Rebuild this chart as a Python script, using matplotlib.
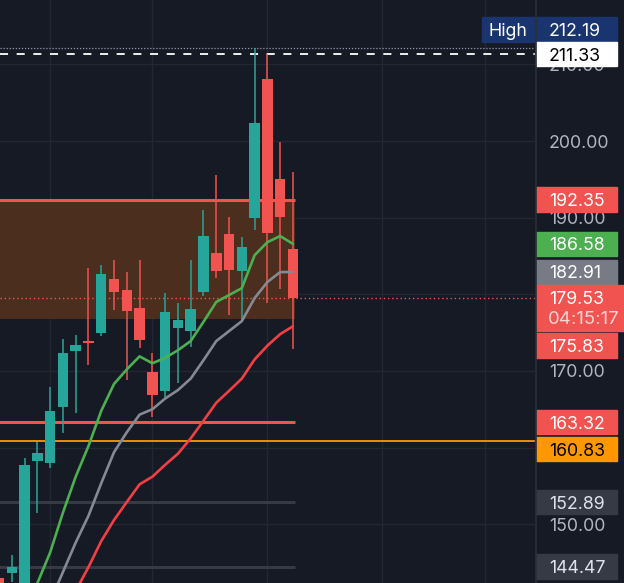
import matplotlib
matplotlib.use("Agg")
import matplotlib.pyplot as plt
from matplotlib.patches import Rectangle

plt.rcParams['font.family'] = ['Inter', 'DejaVu Sans']
plt.rcParams['lines.scale_dashes'] = False

# ---------------- data ----------------
opens  = [143.0, 143.6, 141.5, 158.25, 158.0, 165.3, 172.6, 173.9, 174.95, 182.0, 180.56, 178.21,
          169.86, 167.38, 175.6, 175.2, 180.3, 185.39, 187.87, 183.04, 189.95, 208.09, 195.04, 185.91]
closes = [139.5, 144.4, 157.7, 159.3, 164.8, 172.3, 173.4, 173.65, 182.65, 180.3, 177.82, 174.04,
          166.86, 177.69, 176.65, 178.1, 187.6, 183.04, 183.17, 186.17, 202.35, 188.0, 190.08, 179.53]
highs  = [143.6, 146.0, 158.6, 160.7, 167.9, 174.2, 174.7, 183.4, 183.8, 184.5, 182.9, 184.5,
          172.3, 180.2, 178.9, 184.5, 191.0, 195.6, 190.1, 187.5, 212.19, 211.33, 199.9, 196.0]
lows   = [138.0, 142.5, 140.5, 151.5, 157.3, 161.9, 164.5, 170.8, 174.6, 178.0, 168.8, 173.0,
          164.0, 166.6, 168.4, 173.1, 179.8, 182.1, 177.3, 176.6, 188.4, 178.9, 180.7, 172.9]

ma_green = [131.0, 134.5, 138.5, 142.3, 146.3, 151.5, 156.2, 160.2, 164.8, 168.3, 170.2, 171.9,
            171.0, 171.7, 172.7, 173.9, 176.4, 179.0, 179.9, 180.8, 185.1, 186.8, 187.6, 186.58]
ma_gray  = [124.6, 128.5, 132.1, 136.0, 139.9, 143.75, 147.6, 151.1, 155.35, 159.4, 162.0, 164.3,
            165.0, 166.4, 167.5, 169.0, 171.4, 173.9, 175.2, 176.5, 179.5, 181.6, 182.9, 182.91]
ma_red   = [121.5, 124.7, 128.1, 131.4, 134.6, 137.95, 141.3, 144.4, 147.8, 150.55, 152.9, 155.2,
            156.2, 157.75, 159.2, 161.2, 163.5, 165.85, 167.4, 169.0, 171.5, 173.3, 174.8, 175.83]

zone_top, zone_bottom = 192.35, 176.8
support_level = 163.32
orange_level = 160.83
gray_levels = [152.89, 144.47]
high_level = 212.19
dashed_level = 211.33
last_price = 179.53
countdown = "04:15:17"

price_ticks = [150, 160, 170, 180, 190, 200, 210]
shown_tick_labels = [150, 170, 190, 200, 210]   # 160 and 180 are hidden behind price boxes
time_grid = [4, 12, 21, 30, 38]

label_values = [212.19, 211.33, 192.35, 186.58, 182.91, 179.53, 175.83, 163.32, 160.83, 152.89, 144.47]
label_texts = ["212.19", "211.33", "192.35", "186.58", "182.91", "179.53", "175.83", "163.32", "160.83", "152.89", "144.47"]

# ---------------- style ----------------
BG = "#161a25"
GRID = "#232733"
UP = "#26a69a"
DOWN = "#f05350"
label_bg = ["#19346e", "#ffffff", DOWN, "#4caf50", "#787b86", DOWN, DOWN, DOWN, "#ff9800", "#363a45", "#363a45"]
label_fg = ["#ffffff", "#000000", "#ffffff", "#ffffff", "#ffffff", "#ffffff", "#ffffff", "#ffffff", "#000000", "#e0e3eb", "#e0e3eb"]
label_shift_px = [-18, 0, 0, 0, 0, 0, 19, 0, 8, 0, 0]

W, H = 624, 583
YLIM = (142.33, 218.40)
PPU = H / (YLIM[1] - YLIM[0])

fig = plt.figure(figsize=(W / 100, H / 100), dpi=100)
fig.patch.set_facecolor(BG)
ax = fig.add_axes([0, 0, 535 / W, 1])
ax.set_facecolor(BG)
ax.set_xlim(0.078, 41.94)
ax.set_ylim(*YLIM)
for s in ax.spines.values():
    s.set_visible(False)
ax.set_xticks(time_grid)
ax.set_yticks(price_ticks)
ax.tick_params(length=0, labelleft=False, labelbottom=False)
ax.grid(color=GRID, lw=1.0)
ax.set_axisbelow(True)

zone_end = 23.15
ax.fill_between([-1, zone_end], zone_bottom, zone_top, color="#4b2e1e", lw=0, zorder=1)
ax.hlines(zone_top, -1, zone_end, color=DOWN, lw=2.2, zorder=2)
ax.hlines(support_level, -1, zone_end, color=DOWN, lw=2.2, zorder=2)
for g in gray_levels:
    ax.hlines(g, -1, zone_end, color="#363a45", lw=2.2, zorder=2)
ax.axhline(orange_level, color="#ff9800", lw=1.3, zorder=2)
ax.axhline(last_price, color=DOWN, lw=1.0, ls=(0, (1.0, 2.0)), zorder=2)
ax.axhline(high_level, color="#9598a1", lw=0.9, ls=(0, (0.9, 1.3)), zorder=2)
ax.axhline(dashed_level, color="#ffffff", lw=1.3, ls=(0, (5.8, 6.2)), zorder=2)

xs = list(range(len(opens)))
for i in xs:
    o, c, hi, lo = opens[i], closes[i], highs[i], lows[i]
    col = UP if c >= o else DOWN
    ax.vlines(i, lo, hi, color=col, lw=1.1, zorder=3)
    ax.bar(i, max(abs(c - o), 0.25), bottom=min(o, c), width=0.82, color=col, lw=0, zorder=3)

ax.plot(xs, ma_red, color="#f23f44", lw=1.9, zorder=4, solid_capstyle='round')
ax.plot(xs, ma_gray, color="#868993", lw=1.9, zorder=4, solid_capstyle='round')
ax.plot(xs, ma_green, color="#4caf50", lw=1.9, zorder=4, solid_capstyle='round')

# ---------------- price scale ----------------
ax2 = fig.add_axes([535 / W, 0, 89 / W, 1])
ax2.set_facecolor(BG)
ax2.set_xlim(0, 89)
ax2.set_ylim(*YLIM)
ax2.axis("off")
ax2.add_patch(Rectangle((0, YLIM[0]), 89, YLIM[1] - YLIM[0], color=BG, zorder=0, clip_on=False))

FS = 12.8
for t in shown_tick_labels:
    ax2.text(14, t, f"{t:.2f}", color="#b2b5be", fontsize=FS, va="center_baseline", ha="left", zorder=1)

box_h = 24.5 / PPU
for val, txt, bg, fg, sh in zip(label_values, label_texts, label_bg, label_fg, label_shift_px):
    yc = val - sh / PPU
    if val == last_price:
        top = yc + 13 / PPU
        bot = yc - 33 / PPU
        ax2.add_patch(Rectangle((1, bot), 100, top - bot, color=bg, zorder=2, clip_on=False))
        ax2.text(14, yc, txt, color=fg, fontsize=FS, va="center_baseline", ha="left", zorder=3)
        ax2.text(13, yc - 20 / PPU, countdown, color="#f5d5d5", fontsize=FS + 0.6, va="center_baseline",
                 ha="left", zorder=3, clip_on=False)
        continue
    ax2.add_patch(Rectangle((1, yc - box_h / 2), 81, box_h, color=bg, zorder=2 if val != 175.83 else 2.5))
    ax2.text(14, yc, txt, color=fg, fontsize=FS, va="center_baseline", ha="left", zorder=3)
    if val == high_level:
        ax2.add_patch(Rectangle((-53, yc - box_h / 2), 53, box_h, color=bg, zorder=2, clip_on=False))
        ax2.text(-46, yc, "High", color="#ffffff", fontsize=FS, va="center_baseline", ha="left",
                 zorder=3, clip_on=False)

ax2.axvline(0.5, color="#2a2e39", lw=1.2, zorder=5)

fig.savefig("out.png", dpi=100, facecolor=BG)
